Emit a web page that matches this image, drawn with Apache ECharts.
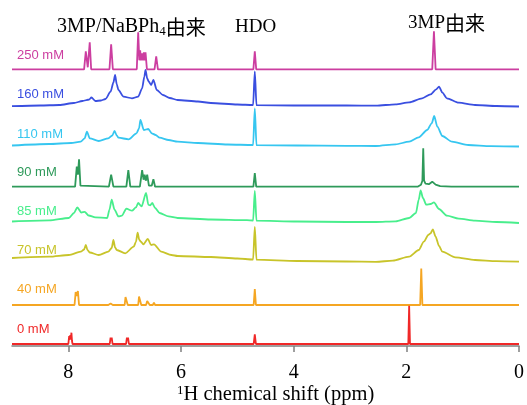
<!DOCTYPE html>
<html>
<head>
<meta charset="utf-8">
<script src="https://cdn.jsdelivr.net/npm/echarts@6/dist/echarts.min.js"></script>
<style>
    html, body { margin: 0; padding: 0; background: #fff; }
    #chart { width: 527px; height: 405px; }
</style>
</head>
<body>
<div id="chart"></div>
<script>
// spectra: [ppm, intensity above own baseline]
const spec0 = [
    [9, 0], [8.0, 0], [7.985, 8], [7.975, 4], [7.965, 9], [7.955, 5], [7.945, 11.3], [7.935, 3], [7.925, 0],
    [7.265, 0], [7.25, 6.3], [7.24, 4], [7.23, 6.3], [7.215, 0],
    [6.975, 0], [6.96, 6.3], [6.95, 4], [6.94, 6.3], [6.925, 0],
    [4.71, 0], [4.69, 9.7], [4.67, 0],
    [1.965, 0], [1.95, 38.3], [1.935, 0], [0, 0],
];
const spec40 = [
    [9, 0], [7.89, 0], [7.87, 13], [7.85, 9], [7.83, 14], [7.81, 0],
    [7.29, 0], [7.25, 1.5], [7.21, 0],
    [7.0, 0], [6.985, 8], [6.96, 8], [6.945, 0],
    [6.76, 0], [6.745, 8.5], [6.72, 8.5], [6.705, 0],
    [6.62, 0], [6.6, 4], [6.57, 4], [6.555, 0],
    [6.5, 0], [6.48, 2.3], [6.46, 0],
    [4.71, 0], [4.69, 16], [4.67, 0],
    [1.755, 0], [1.735, 36.5], [1.715, 0], [0, 0],
];
const spec70 = [
    [9, 4], [8.34, 5.3], [7.99, 7], [7.78, 10.3], [7.72, 12.5], [7.69, 17], [7.66, 12], [7.62, 9.5],
    [7.46, 7], [7.29, 10.3], [7.23, 14], [7.2, 22], [7.17, 14.5], [7.14, 12], [6.99, 8.7], [6.84, 15.3],
    [6.8, 20], [6.77, 29.3], [6.74, 22], [6.71, 20.3], [6.67, 17.7], [6.59, 23], [6.53, 17], [6.48, 17.7],
    [6.35, 10.3], [6.17, 7], [6.06, 6], [5.47, 5], [5.0, 3.5], [4.72, 2.5], [4.69, 35], [4.66, 2.3],
    [3.94, 1], [3.06, 0.5], [2.54, 0.2], [2.24, 1.3], [1.95, 5.3], [1.78, 12], [1.69, 20.3], [1.61, 27],
    [1.57, 28.7], [1.53, 32.7], [1.48, 25.3], [1.42, 16], [1.36, 10.3], [1.13, 4.7], [0.78, 2], [0.4, 0.8], [0, 0.3],
];
const spec85 = [
    [9, 1.5], [8.34, 2.6], [7.99, 5], [7.9, 10], [7.84, 15.6], [7.77, 10.5], [7.71, 11.2], [7.64, 7.5],
    [7.52, 5.6], [7.31, 5], [7.27, 13.3], [7.23, 23.3], [7.18, 13.3], [7.11, 6.6], [7.05, 7.3], [6.97, 14.3],
    [6.87, 12.3], [6.8, 15.6], [6.76, 20], [6.7, 16.6], [6.62, 30], [6.58, 18.3], [6.55, 17.6], [6.51, 20],
    [6.46, 15], [6.38, 10], [6.22, 6.6], [6.06, 5], [5.47, 3.5], [4.83, 2.8], [4.72, 2.5], [4.69, 32], [4.66, 2.3],
    [3.94, 1.5], [3.06, 1], [2.54, 1], [2.19, 1.6], [1.95, 5], [1.83, 10], [1.78, 23.3], [1.746, 32.6],
    [1.705, 25], [1.646, 18.3], [1.57, 19], [1.51, 20.6], [1.42, 14], [1.28, 7.3], [1.07, 4.3], [0.78, 2.3], [0.4, 1], [0, 0],
];
const spec90 = [
    [9, 0], [7.88, 0], [7.85, 20], [7.83, 12], [7.81, 27.5], [7.785, 1], [7.76, 0],
    [7.28, 0], [7.24, 12], [7.2, 0],
    [6.97, 0], [6.935, 16.5], [6.9, 0],
    [6.73, 0], [6.69, 16.5], [6.665, 7], [6.645, 12], [6.625, 6], [6.6, 12], [6.57, 1], [6.52, 1], [6.49, 7.5], [6.46, 0],
    [4.715, 0], [4.69, 13.5], [4.665, 0],
    [1.8, 0], [1.74, 2], [1.715, 6], [1.7, 38.5], [1.685, 6], [1.66, 3], [1.6, 2.5], [1.54, 5], [1.48, 2], [1.4, 0.5], [1.2, 0], [0, 0],
];
const spec110 = [
    [9, 1], [8.34, 2.5], [7.95, 3.5], [7.78, 4.8], [7.71, 8.2], [7.67, 14.8], [7.62, 8.2], [7.46, 5.5],
    [7.29, 8.2], [7.22, 11], [7.18, 15.5], [7.14, 11], [7.11, 8.8], [6.93, 7.2], [6.79, 13.2], [6.745, 18],
    [6.72, 26.5], [6.66, 16.5], [6.58, 17.5], [6.52, 13.2], [6.45, 11.5], [6.38, 8.8], [6.22, 6.5], [6.06, 4.8],
    [5.7, 3.5], [5.17, 2], [4.72, 1.5], [4.69, 38], [4.66, 1.3], [3.94, 1], [3.06, 0.7], [2.54, 0.5],
    [2.19, 2.2], [1.95, 4.8], [1.78, 9.2], [1.63, 16.5], [1.55, 23.2], [1.505, 30.5], [1.45, 19.8],
    [1.36, 10.5], [1.19, 4.8], [0.9, 1.5], [0.5, 0.3], [0, 0],
];
const spec160 = [
    [9, 0.3], [8.5, 1], [8.16, 1.5], [7.9, 3.5], [7.75, 5.5], [7.63, 7], [7.59, 9], [7.52, 5.5], [7.42, 6],
    [7.34, 7.5], [7.25, 14.8], [7.2, 24], [7.17, 31.5], [7.14, 22], [7.11, 16.5], [7.02, 9.8], [6.87, 8.2],
    [6.76, 9.8], [6.69, 18.2], [6.65, 30], [6.63, 36.5], [6.6, 28], [6.57, 24.8], [6.53, 21.5], [6.49, 26.5],
    [6.43, 16.5], [6.32, 11.5], [6.2, 8.5], [6.06, 6.5], [5.7, 5], [5.47, 3.5], [5.0, 2], [4.72, 1.5],
    [4.69, 35], [4.66, 1.3], [4.0, 1], [3.06, 1], [2.54, 0.8], [2.19, 2.2], [1.95, 4.2], [1.72, 8.2],
    [1.57, 12.2], [1.47, 17.2], [1.42, 19.8], [1.36, 13.8], [1.28, 8.2], [1.07, 3.8], [0.78, 1.5], [0.4, 0.5], [0, 0],
];
const spec250 = [
    [9, 0], [7.72, 0], [7.69, 18], [7.655, 2], [7.62, 27], [7.595, 0],
    [7.27, 0], [7.24, 25], [7.21, 0],
    [6.785, 0], [6.76, 37], [6.74, 9], [6.725, 19], [6.71, 9], [6.69, 16], [6.675, 9], [6.66, 17], [6.645, 9], [6.63, 17], [6.605, 0],
    [6.47, 0], [6.44, 13], [6.41, 0],
    [4.715, 0], [4.69, 18], [4.665, 0],
    [1.54, 0], [1.51, 38], [1.48, 0], [0, 0],
];

const concLabels = ['0 mM', '40 mM', '70 mM', '85 mM', '90 mM', '110 mM', '160 mM', '250 mM'];
const spectra = [spec0, spec40, spec70, spec85, spec90, spec110, spec160, spec250];
const ticks = [0, 2, 4, 6, 8];

// layout / style
const offsets = [2, 41, 84, 123, 159.3, 199.5, 239.5, 276.7];
const labelY = [329, 289.5, 250, 211.3, 172.5, 134, 94.5, 55];
const colors = ['#f02828', '#f5a623', '#c8c42a', '#48ee8c', '#2e9a5a', '#36c6f0', '#3a4fe0', '#cc3ea0'];
const broad = [false, false, true, true, false, true, true, false];

const serif = '"Liberation Serif", "Times New Roman", serif';
const cjk = '"Noto Sans CJK JP", sans-serif';

const series = spectra.map((spec, i) => ({
    type: 'line',
    name: concLabels[i],
    data: spec.map(([x, y]) => [x, y + offsets[i]]),
    showSymbol: false,
    smooth: broad[i] ? 0.25 : false,
    smoothMonotone: 'x',
    lineStyle: {color: colors[i], width: 1.8},
    z: 10 - i,
}));

const graphic = concLabels.map((t, i) => ({
    type: 'text',
    x: 17,
    y: labelY[i],
    style: {
        text: t,
        fill: colors[i],
        font: '13px "Liberation Sans", Arial, sans-serif',
        verticalAlign: 'middle',
        textVerticalAlign: 'middle',
    },
}));

graphic.push(
    {
        type: 'text',
        x: 57,
        y: 27,
        style: {
            text: '{s|3MP/NaBPh}{sub|4}{c|由来}',
            verticalAlign: 'middle',
            textVerticalAlign: 'middle',
            rich: {
                s: {fontFamily: serif, fontSize: 20, lineHeight: 22, color: '#000', verticalAlign: 'middle'},
                sub: {fontFamily: serif, fontSize: 13, lineHeight: 12, color: '#000', verticalAlign: 'bottom'},
                c: {fontFamily: cjk, fontSize: 20, lineHeight: 22, color: '#000', verticalAlign: 'middle'},
            },
        },
    },
    {
        type: 'text',
        x: 235,
        y: 27,
        style: {text: 'HDO', font: '19px ' + serif, fill: '#000', verticalAlign: 'middle', textVerticalAlign: 'middle'},
    },
    {
        type: 'text',
        x: 408,
        y: 23,
        style: {
            text: '{s|3MP}{c|由来}',
            verticalAlign: 'middle',
            textVerticalAlign: 'middle',
            rich: {
                s: {fontFamily: serif, fontSize: 19, lineHeight: 22, color: '#000', verticalAlign: 'middle'},
                c: {fontFamily: cjk, fontSize: 20, lineHeight: 22, color: '#000', verticalAlign: 'middle'},
            },
        },
    },
    {
        type: 'text',
        x: 177,
        y: 395,
        style: {
            text: '{sup|1}{n|H chemical shift (ppm)}',
            verticalAlign: 'middle',
            textVerticalAlign: 'middle',
            rich: {
                sup: {fontFamily: serif, fontSize: 13, lineHeight: 22, color: '#000', verticalAlign: 'top'},
                n: {fontFamily: serif, fontSize: 20.5, lineHeight: 22, color: '#000', verticalAlign: 'middle'},
            },
        },
    }
);

const chart = echarts.init(document.getElementById('chart'));
chart.setOption({
    animation: false,
    grid: {left: 12, right: 3, top: 0, bottom: 59},
    xAxis: {
        type: 'value',
        inverse: true,
        min: 0,
        max: 9,
        interval: 2,
        axisLine: {lineStyle: {color: '#808080', width: 1.5}},
        axisTick: {show: true, length: 6, customValues: ticks, lineStyle: {color: '#808080', width: 1.5}},
        axisLabel: {color: '#000', fontFamily: serif, fontSize: 20, margin: 17, customValues: ticks},
        splitLine: {show: false},
    },
    yAxis: {type: 'value', min: 0, max: 346, show: false},
    series,
    graphic,
});
</script>
</body>
</html>
